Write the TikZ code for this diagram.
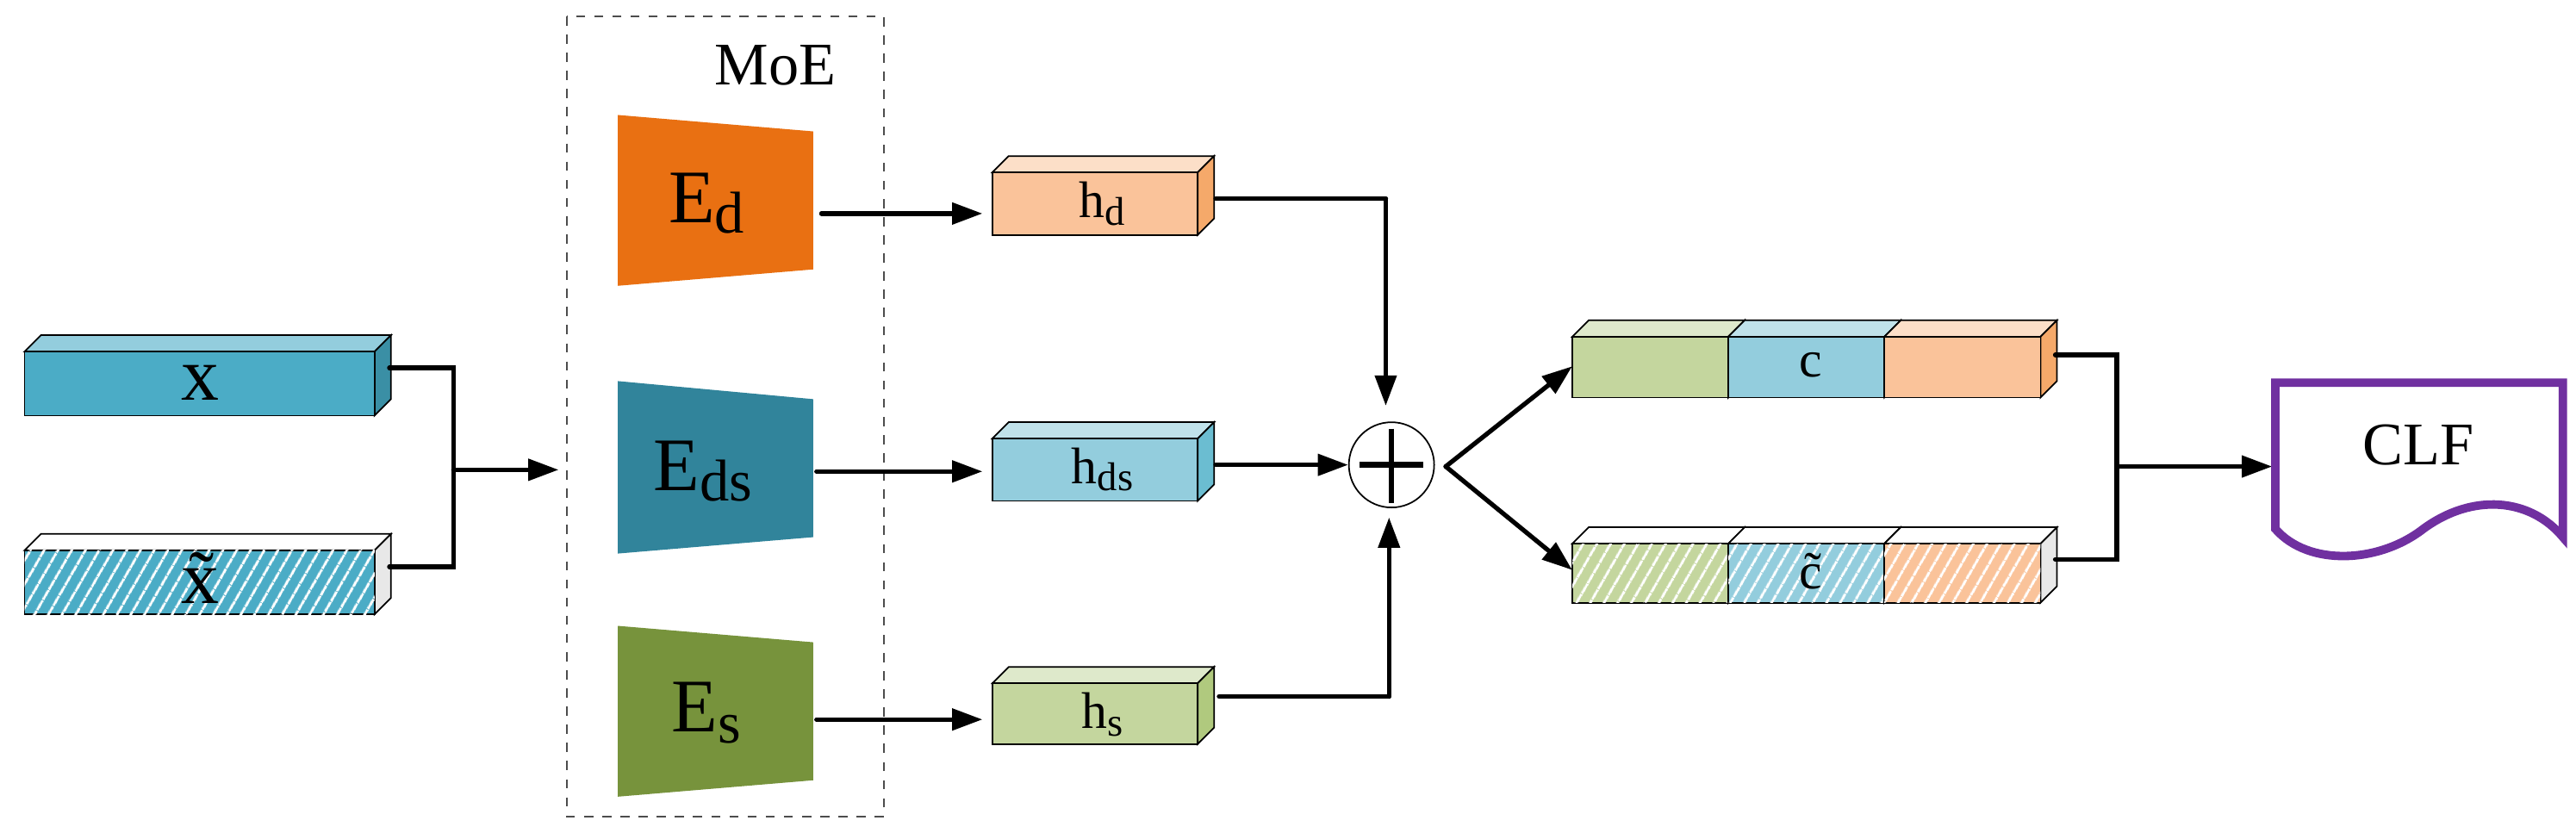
\documentclass[tikz,border=0pt]{standalone}
\usepackage{fontspec}
\setmainfont{Liberation Serif}
\usetikzlibrary{arrows.meta,patterns.meta}
\definecolor{cxf}{HTML}{4BACC6}\definecolor{cxt}{HTML}{93CDDD}\definecolor{cxs}{HTML}{3A8FA5}
\definecolor{ced}{HTML}{E97012}\definecolor{ceds}{HTML}{31849B}\definecolor{ces}{HTML}{77933C}
\definecolor{cof}{HTML}{FAC39A}\definecolor{cot}{HTML}{FCDFC8}\definecolor{cos}{HTML}{F5A96A}
\definecolor{cbf}{HTML}{93CDDD}\definecolor{cbt}{HTML}{C0E2EA}\definecolor{cbs}{HTML}{6BBDD1}
\definecolor{cgf}{HTML}{C4D69E}\definecolor{cgt}{HTML}{DEE9CB}\definecolor{cgs}{HTML}{B0C97E}
\definecolor{cpur}{HTML}{7030A0}
\newcommand\mysb[1]{\raisebox{-0.3ex}{\scalebox{0.78}{#1}}}
% name x1 y1 x2 y2 front top side
\newcommand\cub[7]{%
  \filldraw[#6,draw=black,line width=0.5pt] (#1,#2) -- (#1+10,#2-10) -- (#3+10,#2-10) -- (#3,#2) -- cycle;
  \filldraw[#7,draw=black,line width=0.5pt] (#3,#2) -- (#3+10,#2-10) -- (#3+10,#4-10) -- (#3,#4) -- cycle;
  \filldraw[#5,draw=black,line width=0.5pt] (#1,#2) rectangle (#3,#4);}
\tikzset{
  conn/.style={line width=1.5pt,line cap=round},
  arr/.style={conn,-{Triangle[length=10pt,width=7pt]}},
  hatch/.style={postaction={pattern={Lines[angle=60,distance=4pt,line width=0.9pt]},pattern color=white}},
  lbl/.style={inner sep=0pt},
}
\begin{document}
\begin{tikzpicture}[x=0.019069cm,y=-0.019069cm]
\useasboundingbox (0,0) rectangle (1568,507.1);
% inputs
\cub{15}{214}{228}{253}{fill=cxf}{fill=cxt}{fill=cxs}
\node[lbl,font=\fontsize{25}{25}\selectfont] (x) at (122,233) {x};
\cub{15}{335}{228}{374}{fill=cxf,hatch}{fill=white}{fill=black!9}
\node[lbl,font=\fontsize{25}{25}\selectfont] (xt) at (122,352) {\~{x}};
\coordinate (xe) at (237,224);
\coordinate (xte) at (237,345);
\coordinate (j) at (276,286);
\coordinate (moein) at (340,286);
\draw[conn] (xe) -| (j) |- (xte);
\draw[arr] (j) -- (moein);
% MoE
\draw[dashed,black!70,line width=0.5pt] (345,10) rectangle (538,497);
\node[lbl,font=\fontsize{20}{20}\selectfont] (moe) at (472,40) {MoE};
\fill[ced] (376,70) -- (495,80) -- (495,164) -- (376,174) -- cycle;
\fill[ceds] (376,232) -- (495,243) -- (495,327) -- (376,337) -- cycle;
\fill[ces] (376,381) -- (495,391) -- (495,475) -- (376,485) -- cycle;
\node[lbl,font=\fontsize{25}{25}\selectfont] (ed) at (430,124) {E\mysb{d}};
\node[lbl,font=\fontsize{25}{25}\selectfont] (eds) at (428,287) {E\mysb{ds}};
\node[lbl,font=\fontsize{25}{25}\selectfont] (es) at (430,434) {E\mysb{s}};
\coordinate (ede) at (500,130);
\coordinate (edse) at (497,287);
\coordinate (ese) at (497,438);
% h boxes
\cub{604}{105}{729}{143}{fill=cof}{fill=cot}{fill=cos}
\cub{604}{267}{729}{305}{fill=cbf}{fill=cbt}{fill=cbs}
\cub{604}{416}{729}{453}{fill=cgf}{fill=cgt}{fill=cgs}
\node[lbl,font=\fontsize{17}{17}\selectfont] (hd) at (671,124) {h\mysb{d}};
\node[lbl,font=\fontsize{17}{17}\selectfont] (hds) at (671,286) {h\mysb{ds}};
\node[lbl,font=\fontsize{17}{17}\selectfont] (hs) at (671,435) {h\mysb{s}};
\coordinate (hdw) at (598,130);
\coordinate (hdsw) at (598,287);
\coordinate (hsw) at (598,438);
\draw[arr] (ede) -- (hdw);
\draw[arr] (edse) -- (hdsw);
\draw[arr] (ese) -- (hsw);
% plus
\node[circle,draw,line width=0.5pt,minimum size=0.99cm,inner sep=0pt] (plus) at (847,283) {};
\draw[line width=1.9pt] (847,261) -- (847,306) (827.5,283) -- (866.5,283);
\coordinate (hde) at (740,121);
\coordinate (hdse) at (740,283);
\coordinate (hse) at (742,424);
\coordinate (pd) at (843.5,121);
\coordinate (ps) at (845.5,424);
\draw[conn] (hde) -- (pd);
\draw[arr] (pd) -- (843.5,247);
\draw[arr] (hdse) -- (plus.west);
\draw[conn] (hse) -- (ps);
\draw[arr] (ps) -- (845.5,315);
% concat bars
\cub{957}{205}{1052}{242}{fill=cgf}{fill=cgt}{fill=cgs}
\cub{1052}{205}{1147}{242}{fill=cbf}{fill=cbt}{fill=cbs}
\cub{1147}{205}{1242}{242}{fill=cof}{fill=cot}{fill=cos}
\cub{957}{331}{1052}{367}{fill=cgf,hatch}{fill=white}{fill=black!9}
\cub{1052}{331}{1147}{367}{fill=cbf,hatch}{fill=white}{fill=black!9}
\cub{1147}{331}{1242}{367}{fill=cof,hatch}{fill=white}{fill=black!9}
\node[lbl,font=\fontsize{17}{17}\selectfont] (c) at (1102,222) {c};
\node[lbl,font=\fontsize{17}{17}\selectfont] (ct) at (1102,348) {\~{c}};
\coordinate (fork) at (880,284);
\coordinate (ctop) at (957,223);
\coordinate (cbot) at (957,347);
\draw[arr] (fork) -- (ctop);
\draw[arr] (fork) -- (cbot);
% to CLF
\coordinate (ce) at (1251,216);
\coordinate (cte) at (1251,340.5);
\coordinate (j2) at (1288.5,284);
\coordinate (clfin) at (1383,284);
\draw[conn] (ce) -| (j2) |- (cte);
\draw[arr] (j2) -- (clfin);
\draw[cpur,line width=2.8pt] (1385,233) -- (1560,233) -- (1560,327)
  .. controls (1540,303) and (1505,300) .. (1475,322)
  .. controls (1448,343) and (1405,345) .. (1385,322) -- cycle;
\node[lbl,font=\fontsize{20}{20}\selectfont] (clf) at (1472,271) {CLF};
\end{tikzpicture}
\end{document}
